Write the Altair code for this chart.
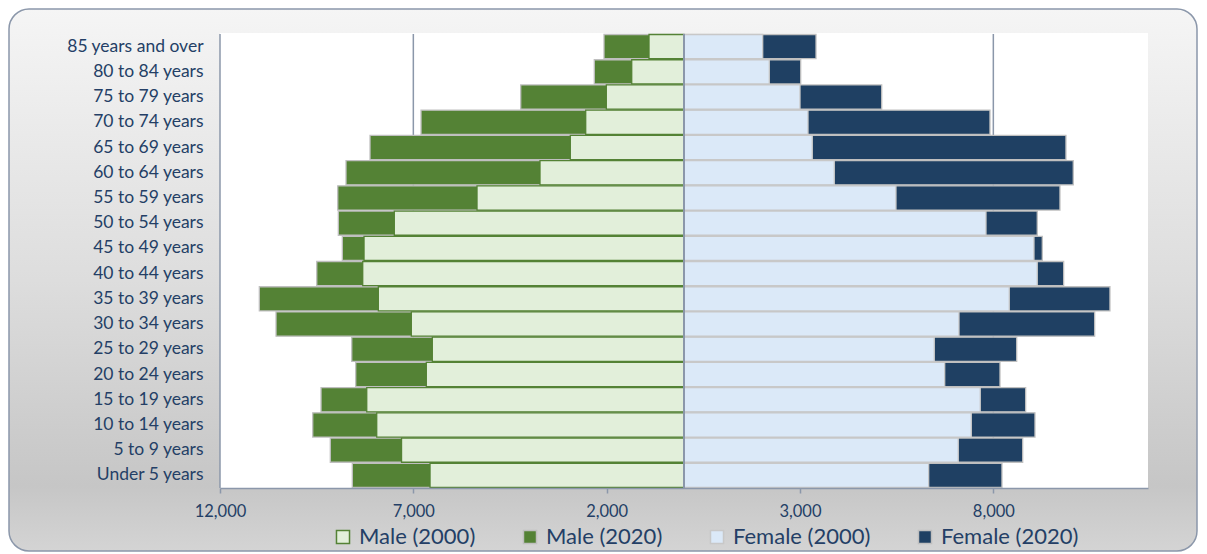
import altair as alt
import pandas as pd

ages = ["85 years and over", "80 to 84 years", "75 to 79 years", "70 to 74 years",
        "65 to 69 years", "60 to 64 years", "55 to 59 years", "50 to 54 years",
        "45 to 49 years", "40 to 44 years", "35 to 39 years", "30 to 34 years",
        "25 to 29 years", "20 to 24 years", "15 to 19 years", "10 to 14 years",
        "5 to 9 years", "Under 5 years"]
male_2000 = [905, 1352, 2009, 2542, 2940, 3724, 5353, 7492, 8275, 8309, 7905, 7052,
             6509, 6664, 8205, 7947, 7305, 6568]
male_2020 = [2069, 2320, 4223, 6801, 8120, 8741, 8955, 8940, 8836, 9498, 10983, 10551,
             8593, 8490, 9387, 9602, 9147, 8578]
female_2000 = [2035, 2206, 3000, 3207, 3318, 3887, 5482, 7810, 9051, 9136, 8412, 7112,
               6473, 6742, 7662, 7430, 7093, 6328]
female_2020 = [3414, 3018, 5113, 7913, 9878, 10067, 9723, 9136, 9266, 9819, 11016, 10621,
               8604, 8172, 8836, 9077, 8759, 8223]
series_names = ["Male (2000)", "Male (2020)", "Female (2000)", "Female (2020)"]
tick_values = [-12000, -7000, -2000, 3000, 8000]

fill_colors = ["#e2efda", "#548235", "#dbe9f8", "#1f4063"]
stroke_colors = ["#548235", "#bfbfbf", "#c8c8c8", "#bfbfbf"]
text_color = "#243f66"
line_color = "#8b97aa"
FONT = "Lato"

rows = []
for i, a in enumerate(ages):
    rows.append({"age": a, "series": "Male (2000)", "value": -male_2000[i]})
    rows.append({"age": a, "series": "Male (2020)", "value": -male_2020[i]})
    rows.append({"age": a, "series": "Female (2000)", "value": female_2000[i]})
    rows.append({"age": a, "series": "Female (2020)", "value": female_2020[i]})
df = pd.DataFrame(rows)

W, H = 928, 454
PAD = {"left": 212, "top": 26, "right": 50, "bottom": 65}

x_scale = alt.Scale(domain=[-12000, 12000], nice=False, zero=False)
y_scale = alt.Scale(paddingInner=0.04, paddingOuter=0.02)
fill_scale = alt.Scale(domain=series_names, range=fill_colors)
stroke_scale = alt.Scale(domain=series_names, range=stroke_colors)

x_axis = alt.Axis(values=tick_values, labelExpr="format(abs(datum.value), ',')",
                  grid=False, domainColor=line_color, domainWidth=1.5,
                  tickColor=line_color, tickWidth=1.5, tickSize=5, labelFlush=False,
                  labelFont=FONT, labelFontSize=16.5, labelColor=text_color,
                  labelPadding=10, title=None, zindex=1)
y_axis = alt.Axis(title=None, ticks=False, tickSize=0, domain=False, labelPadding=17,
                  labelFont=FONT, labelFontSize=17.5, labelColor=text_color,
                  labelLimit=400, zindex=1)
legend = alt.Legend(title=None, orient="none", legendX=112, legendY=492,
                    direction="horizontal", columns=4, columnPadding=43,
                    symbolType="square", symbolSize=170, symbolStrokeWidth=1.5,
                    labelFont=FONT, labelFontSize=22, labelColor=text_color,
                    labelOffset=5, padding=0)

gradient = {"x1": 0, "y1": 0, "x2": 0, "y2": 1, "gradient": "linear",
            "stops": [{"offset": 0, "color": "#f5f5f5"},
                      {"offset": 0.5, "color": "#dddddd"},
                      {"offset": 0.88, "color": "#c6c6c6"},
                      {"offset": 1, "color": "#d4d4d4"}]}

one = pd.DataFrame({"k": [0]})
panel = alt.Chart(one).mark_rect(fill=gradient, stroke=line_color, strokeWidth=1.5,
                                 cornerRadius=20).encode(
    x=alt.value(-211), x2=alt.value(W + PAD["right"] - 1),
    y=alt.value(-25), y2=alt.value(H + PAD["bottom"] - 2))
white = alt.Chart(one).mark_rect(fill="white").encode(
    x=alt.value(0), x2=alt.value(W), y=alt.value(-1), y2=alt.value(H))

grid = alt.Chart(pd.DataFrame({"v": tick_values})).mark_rule(
    color=line_color, strokeWidth=1.5).encode(x=alt.X("v:Q", scale=x_scale, axis=x_axis))

base = alt.Chart(df)


def bars(name):
    return base.transform_filter(alt.datum.series == name).mark_bar(strokeWidth=1.3).encode(
        x=alt.X("value:Q", scale=x_scale, stack=None, axis=x_axis),
        y=alt.Y("age:N", sort=ages, scale=y_scale, axis=y_axis),
        fill=alt.Fill("series:N", scale=fill_scale, legend=legend),
        stroke=alt.Stroke("series:N", scale=stroke_scale, legend=legend),
    )


center = alt.Chart(pd.DataFrame({"v": [0]})).mark_rule(
    color=line_color, strokeWidth=2).encode(x=alt.X("v:Q", scale=x_scale, axis=x_axis))

chart = alt.layer(
    panel, white, grid,
    bars("Male (2020)"), bars("Male (2000)"),
    bars("Female (2020)"), bars("Female (2000)"),
    center,
).properties(
    width=W, height=H,
    autosize=alt.AutoSizeParams(type="none"),
    padding=PAD,
).configure_view(stroke=None).configure(font=FONT)

chart.save("out.html", embed_options={"renderer": "svg", "actions": False})
